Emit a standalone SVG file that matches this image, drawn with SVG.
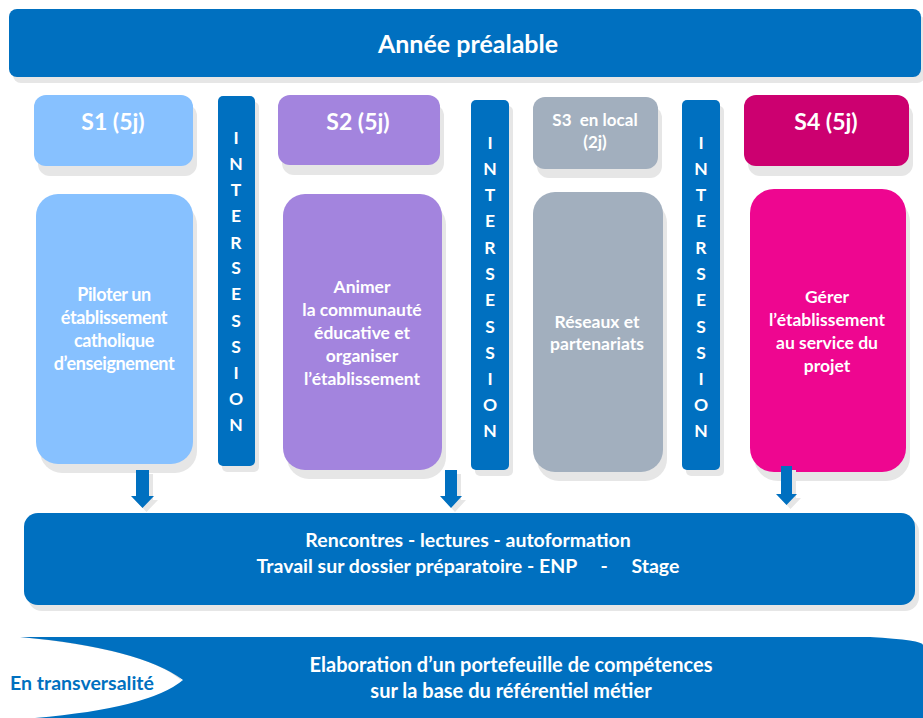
<svg xmlns="http://www.w3.org/2000/svg" width="923" height="718" viewBox="0 0 923 718">
<style>
.sh{fill:#E6E6E6}
.blue{fill:#0070C0}
.t{font-family:Lato,"Open Sans","Liberation Sans",sans-serif;font-weight:bold;fill:#FFFFFF;text-anchor:middle}
.h{font-size:23px}
.b{font-size:17.5px}
.v{font-size:17.5px}
</style>
<rect width="923" height="718" fill="#FFFFFF"/>
<g id="annee">
<rect class="sh" x="13" y="15" width="912" height="68" rx="8"/>
<rect class="blue" x="9" y="9" width="912" height="68" rx="8"/>
<text class="t" x="468" y="53" font-size="25">Année préalable</text>
</g>
<g id="s1-header">
<rect class="sh" x="38" y="104" width="159" height="72" rx="12"/>
<rect x="34" y="95" width="159" height="71" rx="12" fill="#87C1FF"/>
<text class="t h" x="113" y="130">S1 (5j)</text>
</g>
<g id="s1-body">
<rect class="sh" x="40" y="203" width="157" height="270" rx="22"/>
<rect x="36" y="194" width="157" height="270" rx="22" fill="#87C1FF"/>
<text class="t" font-size="18" x="114" letter-spacing="-0.4"><tspan x="114" y="301">Piloter un</tspan><tspan x="114" y="324">établissement</tspan><tspan x="114" y="347">catholique</tspan><tspan x="114" y="370">d’enseignement</tspan></text>
</g>
<g id="intersession-1">
<rect class="sh" x="222" y="102" width="37" height="370" rx="5"/>
<rect class="blue" x="218" y="96" width="37" height="370" rx="5"/>
<text class="t v" x="236"><tspan x="236" y="144">I</tspan><tspan x="236" y="170">N</tspan><tspan x="236" y="196">T</tspan><tspan x="236" y="222">E</tspan><tspan x="236" y="249">R</tspan><tspan x="236" y="274">S</tspan><tspan x="236" y="300">E</tspan><tspan x="236" y="327">S</tspan><tspan x="236" y="353">S</tspan><tspan x="236" y="379">I</tspan><tspan x="236" y="405">O</tspan><tspan x="236" y="431">N</tspan></text>
</g>
<g id="s2-header">
<rect class="sh" x="282" y="104" width="162" height="71" rx="12"/>
<rect x="278" y="95" width="162" height="70" rx="12" fill="#A384DE"/>
<text class="t h" x="358" y="130">S2 (5j)</text>
</g>
<g id="s2-body">
<rect class="sh" x="287" y="203" width="159" height="276" rx="22"/>
<rect x="283" y="194" width="159" height="276" rx="22" fill="#A384DE"/>
<text class="t b" x="362"><tspan x="362" y="293">Animer</tspan><tspan x="362" y="316">la communauté</tspan><tspan x="362" y="339">éducative et</tspan><tspan x="362" y="362">organiser</tspan><tspan x="362" y="385">l’établissement</tspan></text>
</g>
<g id="intersession-2">
<rect class="sh" x="475" y="106" width="38" height="370" rx="5"/>
<rect class="blue" x="471" y="100" width="38" height="370" rx="5"/>
<text class="t v" x="490"><tspan x="490" y="149">I</tspan><tspan x="490" y="175">N</tspan><tspan x="490" y="201">T</tspan><tspan x="490" y="227">E</tspan><tspan x="490" y="254">R</tspan><tspan x="490" y="280">S</tspan><tspan x="490" y="306">E</tspan><tspan x="490" y="333">S</tspan><tspan x="490" y="359">S</tspan><tspan x="490" y="385">I</tspan><tspan x="490" y="411">O</tspan><tspan x="490" y="437">N</tspan></text>
</g>
<g id="s3-header">
<rect class="sh" x="537" y="106" width="125" height="72" rx="12"/>
<rect x="533" y="97" width="125" height="72" rx="12" fill="#A2AFBE"/>
<text class="t" x="595" font-size="17" xml:space="preserve"><tspan x="595" y="126">S3  en local</tspan><tspan x="595" y="148">(2j)</tspan></text>
</g>
<g id="s3-body">
<rect class="sh" x="537" y="201" width="130" height="280" rx="22"/>
<rect x="533" y="192" width="130" height="280" rx="22" fill="#A2AFBE"/>
<text class="t b" x="597"><tspan x="597" y="328">Réseaux et</tspan><tspan x="597" y="350">partenariats</tspan></text>
</g>
<g id="intersession-3">
<rect class="sh" x="686" y="106" width="38" height="370" rx="5"/>
<rect class="blue" x="682" y="100" width="38" height="370" rx="5"/>
<text class="t v" x="701"><tspan x="701" y="149">I</tspan><tspan x="701" y="175">N</tspan><tspan x="701" y="201">T</tspan><tspan x="701" y="227">E</tspan><tspan x="701" y="254">R</tspan><tspan x="701" y="280">S</tspan><tspan x="701" y="306">E</tspan><tspan x="701" y="333">S</tspan><tspan x="701" y="359">S</tspan><tspan x="701" y="385">I</tspan><tspan x="701" y="411">O</tspan><tspan x="701" y="437">N</tspan></text>
</g>
<g id="s4-header">
<rect class="sh" x="748" y="104" width="165" height="72" rx="12"/>
<rect x="744" y="95" width="165" height="71" rx="12" fill="#CC0070"/>
<text class="t h" x="826" y="130">S4 (5j)</text>
</g>
<g id="s4-body">
<rect class="sh" x="754" y="198" width="156" height="283" rx="24"/>
<rect x="750" y="189" width="156" height="283" rx="24" fill="#EE0690"/>
<text class="t b" x="827"><tspan x="827" y="303">Gérer</tspan><tspan x="827" y="326">l’établissement</tspan><tspan x="827" y="349">au service du</tspan><tspan x="827" y="372">projet</tspan></text>
</g>
<g id="connectors">
<polygon class="sh" points="140,474 153,474 153,500 158,500 146.5,512 135,500 140,500"/>
<polygon class="blue" points="136,470 149,470 149,496 154,496 142.5,508 131,496 136,496"/>
<polygon class="sh" points="449,474 461,474 461,500 466,500 455,512 444,500 449,500"/>
<polygon class="blue" points="445,470 457,470 457,496 462,496 451,508 440,496 445,496"/>
<polygon class="sh" points="785,470 796,470 796,498 801,498 790.5,509 780,498 785,498"/>
<polygon class="blue" points="781,466 792,466 792,494 797,494 786.5,505 776,494 781,494"/>
</g>
<g id="activites">
<rect class="sh" x="28" y="518" width="891" height="93" rx="14"/>
<rect class="blue" x="24" y="513" width="891" height="92" rx="14"/>
<text class="t" x="468" font-size="19.5" xml:space="preserve"><tspan x="468" y="547">Rencontres - lectures - autoformation</tspan><tspan x="468" y="573">Travail sur dossier préparatoire - ENP     -     Stage</tspan></text>
</g>
<g id="transversalite">
<path d="M20,637 Q120,640 178,676 L183,682 Q150,650 20,637 Z" fill="#DDDDDD"/>
<path class="blue" d="M20,637 L870,637 Q923,640 923,645 L923,718 L35,718 Q150,708 183,680 Q140,648 20,637 Z"/>
<text x="10" y="690" font-family="Lato,'Open Sans','Liberation Sans',sans-serif" font-weight="bold" font-size="19.5" fill="#0070C0">En transversalité</text>
<text class="t" x="511" font-size="20"><tspan x="511" y="672">Elaboration d’un portefeuille de compétences</tspan><tspan x="511" y="698">sur la base du référentiel métier</tspan></text>
</g>
</svg>
